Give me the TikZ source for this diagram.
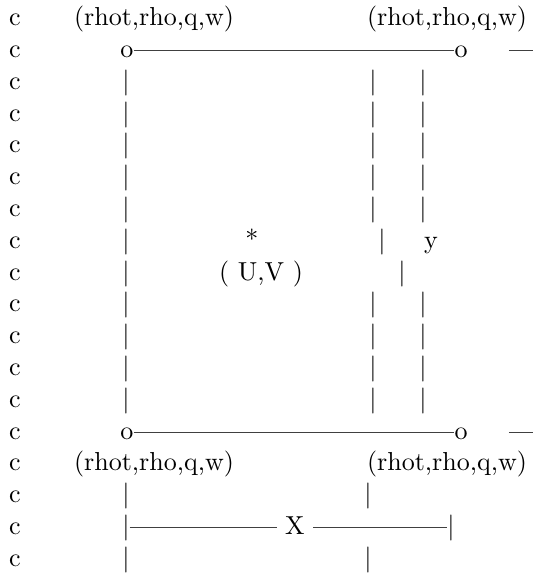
\documentclass[tikz,border=0pt]{standalone}
\begin{document}
\begin{tikzpicture}[x=0.3846pt,y=-0.3846pt,
  txt/.style={inner sep=0pt,outer sep=0pt,anchor=base},
  rulerline/.style={line width=0.35pt,draw=black!75}]
\useasboundingbox (0,0) rectangle (533,578);
\newcommand\bl[1]{{25.6+31.8*(#1-1)}}
% comment column
\foreach \n in {1,...,18}{
  \node[txt] (c\n) at (15,\bl{\n}) {c};
}
% row 1 and 15 labels
\node[txt] (t1a) at (154,\bl{1}) {(rhot,rho,q,w)};
\node[txt] (t1b) at (447,\bl{1}) {(rhot,rho,q,w)};
\node[txt] (t15a) at (154,\bl{15}) {(rhot,rho,q,w)};
\node[txt] (t15b) at (447,\bl{15}) {(rhot,rho,q,w)};
% row 2 and 14 corners
\node[txt] (o2a) at (127,\bl{2}) {o};
\node[txt] (o2b) at (461,\bl{2}) {o};
\node[txt] (o14a) at (127,\bl{14}) {o};
\node[txt] (o14b) at (461,\bl{14}) {o};
\draw[rulerline] ([yshift=0.3pt]o2a.east) -- ([yshift=0.3pt]o2b.west);
\draw[rulerline] ([yshift=0.3pt]o14a.east) -- ([yshift=0.3pt]o14b.west);
\coordinate (d2a) at ([yshift=0.3pt]o2b.east -| 509,0);
\coordinate (d2b) at ([yshift=0.3pt]o2b.east -| 533,0);
\coordinate (d14a) at ([yshift=0.3pt]o14b.east -| 509,0);
\coordinate (d14b) at ([yshift=0.3pt]o14b.east -| 533,0);
\draw[rulerline] (d2a) -- (d2b);
\draw[rulerline] (d14a) -- (d14b);
% vertical bars rows 3-7 and 10-13
\foreach \n in {3,4,5,6,7,10,11,12,13}{
  \node[txt] (la\n) at (126,\bl{\n}) {|};
  \node[txt] (lb\n) at (373,\bl{\n}) {|};
  \node[txt] (lc\n) at (423,\bl{\n}) {|};
}
% row 8
\node[txt] (la8) at (126,\bl{8}) {|};
\node[txt] (star) at (252,\bl{8}) {*};
\node[txt] (lb8) at (382,\bl{8}) {|};
\node[txt] (ylab) at (431,\bl{8}) {y};
% row 9
\node[txt] (la9) at (126,\bl{9}) {|};
\node[txt] (uv) at (261,\bl{9}) {( U,V )};
\node[txt] (lb9) at (402,\bl{9}) {|};
% rows 16 and 18
\foreach \n in {16,18}{
  \node[txt] (la\n) at (126,\bl{\n}) {|};
  \node[txt] (lb\n) at (368,\bl{\n}) {|};
}
% row 17
\node[txt] (la17) at (126,\bl{17}) {|};
\node[txt] (xlab) at (295,\bl{17}) {X};
\node[txt] (lb17) at (451,\bl{17}) {|};
\coordinate (xl) at ([yshift=2.5pt]xlab.base west);
\coordinate (xr) at ([yshift=2.5pt]xlab.base east);
\draw[rulerline] (la17.east |- xl) -- ([xshift=-3.33pt]xl);
\draw[rulerline] ([xshift=3.33pt]xr) -- (lb17.west |- xr);
\end{tikzpicture}
\end{document}
